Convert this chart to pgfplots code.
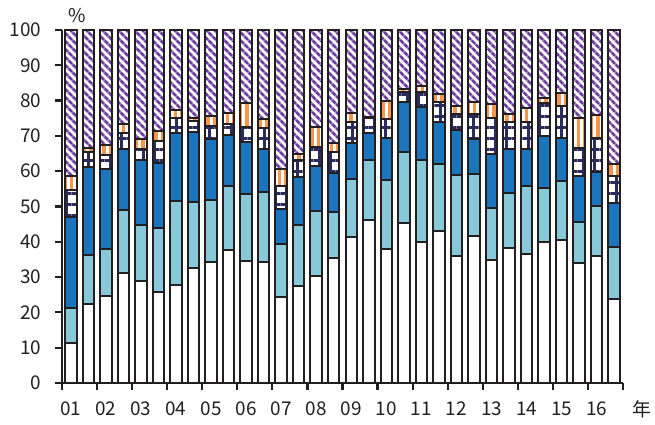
\documentclass[border=0pt]{standalone}
\usepackage{fontspec}
\setmainfont{Noto Sans CJK JP}
\usepackage{pgfplots}
\pgfplotsset{compat=1.18}
\usepackage{pgfplotstable}
\usetikzlibrary{patterns.meta}
\definecolor{edge}{HTML}{231F20}
\definecolor{lblue}{HTML}{87C9D8}
\definecolor{dblue}{HTML}{1B75BC}
\definecolor{navy}{HTML}{2B2C5E}
\definecolor{orng}{HTML}{F7964A}
\definecolor{purp}{HTML}{6F3FA0}

\pgfplotstableread{
x  w    lb   db   ch   or   pu
0  11.3 10.0 25.8 7.7  3.8  41.4
1  22.5 13.8 24.8 4.4  1.1  33.4
2  24.6 13.5 22.4 4.2  2.6  32.7
3  31.2 17.8 17.2 4.5  2.6  26.7
4  28.9 15.8 18.4 3.3  2.8  30.8
5  25.8 18.2 18.4 6.2  2.8  28.6
6  27.7 23.8 19.2 4.3  2.3  22.7
7  32.7 18.6 19.7 3.3  0.8  24.9
8  34.2 17.6 17.3 3.6  2.9  24.4
9  37.8 18.1 14.3 3.3  2.9  23.6
10 34.6 18.8 14.9 4.3  6.6  20.8
11 34.3 19.7 12.4 5.7  2.6  25.3
12 24.4 15.1 9.9  6.5  4.7  39.4
13 27.5 17.2 13.7 4.7  1.9  35.0
14 30.3 18.4 12.7 5.5  5.5  27.6
15 35.4 13.1 10.9 6.1  2.6  31.9
16 41.4 16.5 10.2 5.9  2.4  23.6
17 46.1 17.2 7.4  4.3  0.4  24.6
18 37.9 19.6 11.8 5.5  5.2  20.0
19 45.4 19.9 14.2 3.0  0.8  16.7
20 40.0 23.1 15.0 4.4  1.6  15.9
21 43.1 18.8 12.1 5.7  2.2  18.1
22 35.9 23.1 12.6 4.5  2.4  21.5
23 41.6 17.6 9.9  7.0  3.6  20.3
24 34.8 14.9 15.1 10.4 3.7  21.1
25 38.2 15.6 12.6 7.6  2.1  23.9
26 36.5 19.4 10.5 7.6  3.9  22.1
27 40.0 15.3 14.6 9.3  1.6  19.2
28 40.5 16.8 12.0 9.2  3.7  17.8
29 34.1 11.6 12.9 8.0  8.4  25.0
30 35.9 14.3 9.6  9.7  6.4  24.1
31 23.9 14.7 12.3 7.7  3.4  38.0
}\data

\begin{document}
\begin{tikzpicture}
\begin{axis}[
  scale only axis, width=561bp, height=353bp,
  ybar stacked, bar width=11.5bp,
  xmin=-0.5, xmax=31.5, ymin=0, ymax=100,
  axis x line*=bottom, axis y line*=left,
  axis line style={line width=2.2bp, edge},
  every tick/.style={line width=2.2bp, edge},
  tick align=outside, major tick length=7bp,
  ytick={0,10,...,100},
  xtick={-0.5,1.5,...,31.5}, xticklabels={},
  extra x ticks={0,2,...,30},
  extra x tick labels={01,02,03,04,05,06,07,08,09,10,11,12,13,14,15,16},
  extra x tick style={major tick length=0pt, xticklabel style={yshift=-15bp}},
  /pgf/number format/assume math mode=true,
  tick label style={font=\fontsize{19}{20}\selectfont, text=edge},
  yticklabel style={xshift=-10bp},
  every axis plot/.append style={draw=edge, line width=2bp},
  clip=false,
]
\addplot[fill=white] table[x=x,y=w]{\data};
\addplot[fill=lblue] table[x=x,y=lb]{\data};
\addplot[fill=dblue] table[x=x,y=db]{\data};
\addplot[preaction={fill=white}, pattern={Hatch[distance=11bp,line width=3bp]}, pattern color=navy] table[x=x,y=ch]{\data};
\addplot[preaction={fill=white}, pattern={Lines[angle=90,distance=6.5bp,line width=3.2bp]}, pattern color=orng] table[x=x,y=or]{\data};
\addplot[preaction={fill=white}, pattern={Lines[angle=-45,distance=6bp,line width=3.4bp]}, pattern color=purp] table[x=x,y=pu]{\data};
\coordinate (bl) at (rel axis cs:0,0);
\node[anchor=south, font=\fontsize{19}{20}\selectfont, text=edge] at ([xshift=15bp,yshift=4bp]rel axis cs:0,1) {\%};
\node[font=\fontsize{19}{20}\selectfont, text=edge] at ([xshift=19bp,yshift=-26bp]rel axis cs:1,0) {年};
\end{axis}
\pgfresetboundingbox
\path[use as bounding box] ([xshift=-62bp,yshift=-42bp]bl) rectangle ([xshift=593bp,yshift=383bp]bl);
\end{tikzpicture}
\end{document}
